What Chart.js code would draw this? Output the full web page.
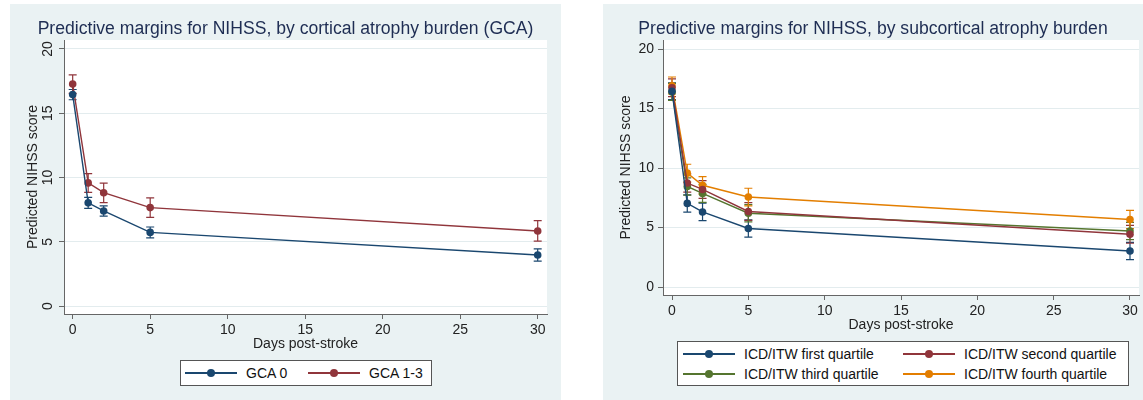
<!DOCTYPE html>
<html>
<head>
<meta charset="utf-8">
<script src="https://cdn.jsdelivr.net/npm/chart.js@4.4.1/dist/chart.umd.min.js"></script>
<style>
  body { margin: 0; width: 1143px; height: 400px; background: #fff; position: relative; overflow: hidden;
         font-family: "Liberation Sans", Arial, sans-serif; }
  .panel { position: absolute; top: 4px; height: 396px; background: #eaf2f3; }
  .panel canvas { position: absolute; left: 0; top: 0; }
  .title { position: absolute; left: 0; right: 0; top: 13px; line-height: 22px; text-align: center;
           color: #1e2d53; font-size: 17.6px; white-space: nowrap; }
  .legend { position: absolute; background: #fff; border: 1px solid #555; box-sizing: border-box; }
  .legend .ln { position: absolute; width: 52px; height: 1.5px; }
  .legend .dot { position: absolute; width: 8px; height: 8px; border-radius: 50%; }
  .legend .tx { position: absolute; font-size: 14px; line-height: 18px; color: #111; white-space: nowrap; }
</style>
</head>
<body>
<div class="panel" id="p1" style="left:10px;width:551px">
  <canvas id="chartGca" width="551" height="396"></canvas>
  <div class="title">Predictive margins for NIHSS, by cortical atrophy burden (GCA)</div>
  <div class="legend" id="legGca" style="left:170px;top:356px;width:252px;height:26px"></div>
</div>
<div class="panel" id="p2" style="left:603px;width:540px">
  <canvas id="chartSub" width="540" height="396"></canvas>
  <div class="title">Predictive margins for NIHSS, by subcortical atrophy burden</div>
  <div class="legend" id="legSub" style="left:74px;top:337px;width:452px;height:45px"></div>
</div>
<script>
// shared axes
var days = [0, 1, 2, 5, 30];
var xTicks = [0, 5, 10, 15, 20, 25, 30];
var yTicks = [0, 5, 10, 15, 20];

// left: cortical atrophy (GCA)
var gcaLabels = ["GCA 0", "GCA 1-3"];
var gca0 = [16.45, 8.03, 7.40, 5.73, 3.97];
var gca0Lo = [16.05, 7.60, 7.00, 5.30, 3.50];
var gca0Hi = [16.85, 8.45, 7.80, 6.15, 4.45];
var gca13 = [17.27, 9.58, 8.82, 7.66, 5.84];
var gca13Lo = [16.55, 8.85, 8.05, 6.90, 5.05];
var gca13Hi = [17.98, 10.30, 9.57, 8.42, 6.64];

// right: subcortical atrophy (ICD/ITW quartiles)
var subLabels = ["ICD/ITW first quartile", "ICD/ITW second quartile", "ICD/ITW third quartile", "ICD/ITW fourth quartile"];
var q1 = [16.45, 7.03, 6.31, 4.92, 3.03];
var q1Lo = [15.75, 6.30, 5.58, 4.20, 2.30];
var q1Hi = [17.15, 7.75, 7.05, 5.65, 3.75];
var q2 = [16.75, 8.74, 8.20, 6.35, 4.43];
var q2Lo = [16.00, 7.98, 7.45, 5.60, 3.68];
var q2Hi = [17.50, 9.50, 8.95, 7.10, 5.18];
var q3 = [16.40, 8.45, 7.87, 6.20, 4.71];
var q3Lo = [15.68, 7.72, 7.12, 5.47, 3.98];
var q3Hi = [17.12, 9.18, 8.62, 6.93, 5.44];
var q4 = [16.92, 9.57, 8.55, 7.57, 5.67];
var q4Lo = [16.22, 8.82, 7.80, 6.82, 4.90];
var q4Hi = [17.65, 10.32, 9.28, 8.30, 6.45];

var colors = ["#1a476f", "#90353b", "#55752f", "#e37e00"];
var FONT = "'Liberation Sans', Arial, sans-serif";

function pts(vals) {
  return vals.map(function (v, i) { return { x: days[i], y: v }; });
}

function series(label, vals, lo, hi, color) {
  return {
    label: label,
    data: pts(vals),
    lo: lo,
    hi: hi,
    borderColor: color,
    backgroundColor: color,
    borderWidth: 1.4,
    pointRadius: 3.8,
    pointBorderWidth: 0,
    pointBackgroundColor: color,
    tension: 0,
    fill: false
  };
}

// white plot region like Stata
var plotBg = {
  id: "plotBg",
  beforeDraw: function (chart) {
    var a = chart.chartArea, c = chart.ctx;
    c.save();
    c.fillStyle = "#ffffff";
    c.fillRect(a.left, a.top, a.right - a.left, a.bottom - a.top);
    c.restore();
  }
};

// capped confidence intervals
var ciBars = {
  id: "ciBars",
  beforeDatasetsDraw: function (chart) {
    var c = chart.ctx, xs = chart.scales.x, ys = chart.scales.y;
    c.save();
    chart.data.datasets.forEach(function (ds) {
      c.strokeStyle = ds.borderColor;
      c.lineWidth = 1.2;
      ds.data.forEach(function (p, i) {
        var px = xs.getPixelForValue(p.x);
        var top = ys.getPixelForValue(ds.hi[i]);
        var bot = ys.getPixelForValue(ds.lo[i]);
        c.beginPath();
        c.moveTo(px, top); c.lineTo(px, bot);
        c.moveTo(px - 4, top); c.lineTo(px + 4, top);
        c.moveTo(px - 4, bot); c.lineTo(px + 4, bot);
        c.stroke();
      });
    });
    c.restore();
  }
};

function makeChart(id, datasets, o) {
  return new Chart(document.getElementById(id), {
    type: "line",
    data: { datasets: datasets },
    options: {
      responsive: false,
      animation: false,
      devicePixelRatio: 1,
      layout: { padding: { left: 0, top: 36, right: o.padRight, bottom: o.padBottom } },
      plugins: { legend: { display: false }, title: { display: false }, tooltip: { enabled: false } },
      scales: {
        x: {
          type: "linear",
          min: o.xMin,
          max: o.xMax,
          afterBuildTicks: function (s) { s.ticks = xTicks.map(function (v) { return { value: v }; }); },
          afterFit: function (s) { s.height = 40; },
          border: { color: "#666", width: 1 },
          grid: { drawOnChartArea: false, tickLength: 5, tickColor: "#666" },
          ticks: { color: "#222", font: { family: FONT, size: 14 }, padding: 3, maxRotation: 0 },
          title: { display: true, text: "Days post-stroke", color: "#222",
                   font: { family: FONT, size: 14 }, padding: { top: 0, bottom: 1.6 } }
        },
        y: {
          min: o.yMin,
          max: o.yMax,
          afterBuildTicks: function (s) { s.ticks = yTicks.map(function (v) { return { value: v }; }); },
          afterFit: function (s) { s.width = o.yWidth; },
          border: { color: "#666", width: 1 },
          grid: { color: "#e3ecee", tickLength: 5, tickColor: "#666" },
          ticks: o.yTicks,
          title: { display: true, text: "Predicted NIHSS score", color: "#222",
                   font: { family: FONT, size: 14 }, padding: { top: 14.6, bottom: 0 } }
        }
      }
    },
    plugins: [plotBg, ciBars]
  });
}

makeChart("chartGca", [
  series(gcaLabels[0], gca0, gca0Lo, gca0Hi, colors[0]),
  series(gcaLabels[1], gca13, gca13Lo, gca13Hi, colors[1])
], {
  xMin: -0.56, xMax: 30.6, yMin: -0.62, yMax: 20.7, yWidth: 54, padRight: 14, padBottom: 46,
  yTicks: { color: "#222", font: { family: FONT, size: 14 }, padding: 3,
            minRotation: 90, maxRotation: 90, crossAlign: "center" }
});

makeChart("chartSub", [
  series(subLabels[0], q1, q1Lo, q1Hi, colors[0]),
  series(subLabels[1], q2, q2Lo, q2Hi, colors[1]),
  series(subLabels[2], q3, q3Lo, q3Hi, colors[2]),
  series(subLabels[3], q4, q4Lo, q4Hi, colors[3])
], {
  xMin: -0.59, xMax: 30.59, yMin: -0.67, yMax: 20.76, yWidth: 60, padRight: 2, padBottom: 65,
  yTicks: { color: "#222", font: { family: FONT, size: 14 }, padding: 4 }
});

// Stata-style legend boxes: line with a dot in the middle
function buildLegend(elId, labels, colX, rowY) {
  var el = document.getElementById(elId);
  labels.forEach(function (lab, i) {
    var x = colX[i % 2], y = rowY[Math.floor(i / 2)];
    var ln = document.createElement("div");
    ln.className = "ln";
    ln.style.left = x + "px"; ln.style.top = (y - 0.75) + "px"; ln.style.background = colors[i];
    var dot = document.createElement("div");
    dot.className = "dot";
    dot.style.left = (x + 22) + "px"; dot.style.top = (y - 4) + "px"; dot.style.background = colors[i];
    var tx = document.createElement("div");
    tx.className = "tx";
    tx.textContent = lab;
    tx.style.left = (x + 61) + "px"; tx.style.top = (y - 9) + "px";
    el.appendChild(ln); el.appendChild(dot); el.appendChild(tx);
  });
}
buildLegend("legGca", gcaLabels, [4, 127], [12]);
buildLegend("legSub", subLabels, [5, 225], [12, 32]);
</script>
</body>
</html>
